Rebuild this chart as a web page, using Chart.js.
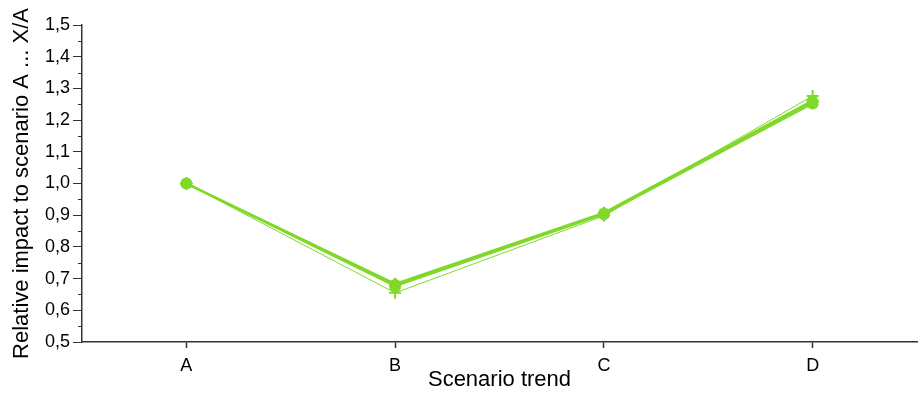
<!DOCTYPE html>
<html>
<head>
<meta charset="utf-8">
<script src="https://cdn.jsdelivr.net/npm/chart.js@4"></script>
<style>
  html, body { margin: 0; padding: 0; background: #fff; overflow: hidden; }
</style>
</head>
<body>
<canvas id="chart" width="920" height="393"></canvas>
<script>
var scenarios = ['A', 'B', 'C', 'D'];
var seriesOne = [1.0, 0.676, 0.903, 1.252];
var seriesTwo = [1.0, 0.680, 0.906, 1.258];
var seriesThree = [1.0, 0.684, 0.908, 1.262];
var seriesFour = [1.0, 0.655, 0.898, 1.276];
var yTicks = [0.5, 0.6, 0.7, 0.8, 0.9, 1.0, 1.1, 1.2, 1.3, 1.4, 1.5];

var green = '#80d82a';
var font = 'Liberation Sans, Arial, sans-serif';

function line(data, width, style, radius) {
  return {
    data: data,
    borderColor: green,
    backgroundColor: green,
    borderWidth: width,
    pointStyle: style,
    pointRadius: radius,
    pointBorderWidth: 2,
    pointBorderColor: green,
    pointBackgroundColor: green,
    tension: 0
  };
}

function isMajor(v) {
  return yTicks.some(function(t) { return Math.abs(t - v) < 1e-6; });
}

// short minor ticks between the labelled ones
var minorTicks = {
  id: 'minorTicks',
  afterDraw: function(chart) {
    var y = chart.scales.y;
    var ctx = chart.ctx;
    ctx.save();
    ctx.strokeStyle = '#333';
    ctx.lineWidth = 1;
    y.ticks.forEach(function(t) {
      if (isMajor(t.value)) return;
      var py = Math.round(y.getPixelForValue(t.value)) + 0.5;
      ctx.beginPath();
      ctx.moveTo(y.right - 4, py);
      ctx.lineTo(y.right, py);
      ctx.stroke();
    });
    ctx.restore();
  }
};

new Chart(document.getElementById('chart'), {
  type: 'line',
  data: {
    labels: scenarios,
    datasets: [
      line(seriesFour, 1, 'cross', 6),
      line(seriesOne, 2, 'circle', 5),
      line(seriesTwo, 2, 'star', 6),
      line(seriesThree, 2, 'rectRot', 5)
    ]
  },
  options: {
    responsive: false,
    animation: false,
    layout: { autoPadding: false, padding: { top: 25, right: 3, left: 0, bottom: 0 } },
    plugins: { legend: { display: false }, tooltip: { enabled: false } },
    scales: {
      x: {
        offset: true,
        grid: { offset: false, drawOnChartArea: false, drawTicks: true, tickLength: 6, tickColor: '#333', tickWidth: 1.5 },
        border: { color: '#333', width: 1.5 },
        ticks: { color: '#000', font: { family: font, size: 18 }, padding: 7 },
        title: { display: true, text: 'Scenario trend', color: '#000', font: { family: font, size: 22 }, padding: { top: 0, bottom: 0 } },
        afterFit: function(scale) {
          scale.height = 51;
        }
      },
      y: {
        min: 0.5,
        max: 1.5,
        grid: {
          drawOnChartArea: false,
          drawTicks: true,
          tickLength: 9,
          tickWidth: 1,
          tickColor: function(c) { return isMajor(c.tick.value) ? '#333' : 'rgba(0,0,0,0)'; }
        },
        border: { color: '#333', width: 1.5 },
        ticks: {
          stepSize: 0.05,
          autoSkip: false,
          color: '#000',
          font: { family: font, size: 18 },
          padding: 3,
          callback: function(v) { return isMajor(v) ? v.toFixed(1).replace('.', ',') : ''; }
        },
        title: { display: true, text: 'Relative impact to scenario A ... X/A', color: '#000', font: { family: font, size: 22 }, padding: { top: 9, bottom: 0 } },
        afterFit: function(scale) { scale.width = 82; }
      }
    }
  },
  plugins: [minorTicks]
});
</script>
</body>
</html>
